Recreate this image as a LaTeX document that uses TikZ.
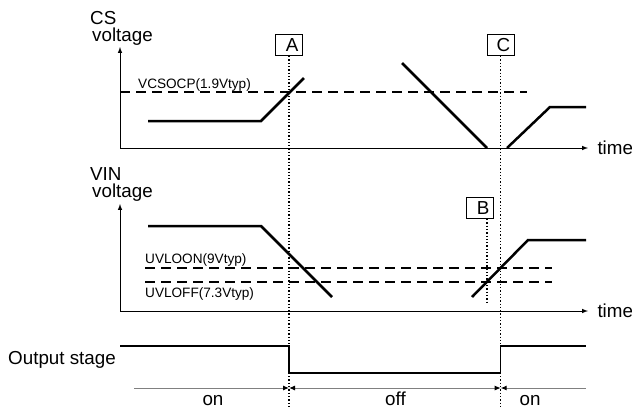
\documentclass[tikz,border=0pt]{standalone}
\usepackage{fontspec}
\setmainfont{Liberation Sans}
\usetikzlibrary{arrows.meta, positioning}
\newcommand{\bigtxt}{\fontsize{18.8}{20}\selectfont}
\newcommand{\smalltxt}{\fontsize{13.6}{15}\selectfont}
\tikzset{>=latex}
\tikzset{
  wave/.style={line width=2.5pt},
  axis/.style={line width=1pt, ->},
  thresh/.style={line width=1.2pt, dash pattern=on 10pt off 6pt},
  marker/.style={line width=1.3pt, dotted},
  outline/.style={line width=1.3pt},
  span/.style={line width=1pt, draw=black!50, arrows={-Latex[black, length=6pt, width=5pt]}},
  tag/.style={draw, line width=1pt, text width=19pt, align=right, inner xsep=4pt,
    inner ysep=0pt, minimum height=21pt, font=\bigtxt},
  lbl/.style={inner sep=0pt, font=\bigtxt},
  thr/.style={inner sep=0pt, font=\smalltxt}
}
\begin{document}
\begin{tikzpicture}[x=1pt, y=-1pt]
    \useasboundingbox (0,0) rectangle (632,408);
    % axes
    \coordinate (csO) at (120,148);
    \coordinate (vinO) at (120,311);
    \draw[axis] (csO) -- (120,47);
    \draw[axis] (csO) -- (588,148) node[lbl, right=9pt] (t1) {time};
    \draw[axis] (vinO) -- (120,204);
    \draw[axis] (vinO) -- (588,311) node[lbl, right=9pt] (t2) {time};
    \node[lbl, anchor=base west] (cs) at (90,24) {CS};
    \node[lbl, anchor=base west] (csv) at (92,41) {voltage};
    \node[lbl, anchor=base west] (vin) at (90,180) {VIN};
    \node[lbl, anchor=base west] (vinv) at (92,197) {voltage};
    \node[lbl, anchor=base west] (out) at (8,364) {Output stage};
    % thresholds
    \draw[thresh] (120,92) -- (527,92);
    \node[thr, anchor=base west] (ocp) at (138,88) {VCSOCP(1.9Vtyp)};
    \draw[thresh] (145,268) -- (552,268);
    \draw[thresh] (145,282) -- (552,282);
    \node[thr, anchor=base west] (uvon) at (145,263) {UVLOON(9Vtyp)};
    \node[thr, anchor=base west] (uvoff) at (145,297) {UVLOFF(7.3Vtyp)};
    % waveforms
    \draw[wave] (148,121) -- (261,121) -- (304,78);
    \draw[wave] (402,63) -- (487,148);
    \draw[wave] (507,148) -- (550,107) -- (586,107);
    \draw[wave] (148,226) -- (261,226) -- (332,297);
    \draw[wave] (472,297) -- (528,240) -- (586,240);
    \draw[outline] (120,346) -- (289,346) -- (289,373) -- (500.7,373) -- (500.7,346) -- (586,346);
    % markers
    \node[tag, anchor=south] (tagA) at (289,56) {A};
    \node[tag, anchor=south] (tagC) at (500.7,56) {C};
    \node[tag, anchor=south] (tagB) at (480,219) {B};
    \coordinate (endA) at (289,408);
    \coordinate (endC) at (500.7,408);
    \coordinate (endB) at (487,302);
    \draw[marker] (tagA) -- (endA);
    \draw[marker] (tagC) -- (endC);
    \draw[marker] (endB |- tagB.south) -- (endB);
    % states
    \coordinate (s0) at (134,388);
    \coordinate (s1) at (289,388);
    \coordinate (s2) at (500.7,388);
    \coordinate (s3) at (586,388);
    \draw[span] (s0) -- (s1);
    \draw[span, arrows={Latex[black, length=6pt, width=5pt]-Latex[black, length=6pt, width=5pt]}] (s1) -- (s2);
    \draw[span, arrows={Latex[black, length=6pt, width=5pt]-}] (s2) -- (s3);
    \node[lbl, anchor=base] (on1) at (213,405) {on};
    \node[lbl, anchor=base] (off) at (395.5,405) {off};
    \node[lbl, anchor=base] (on2) at (530,405) {on};
\end{tikzpicture}
\end{document}
